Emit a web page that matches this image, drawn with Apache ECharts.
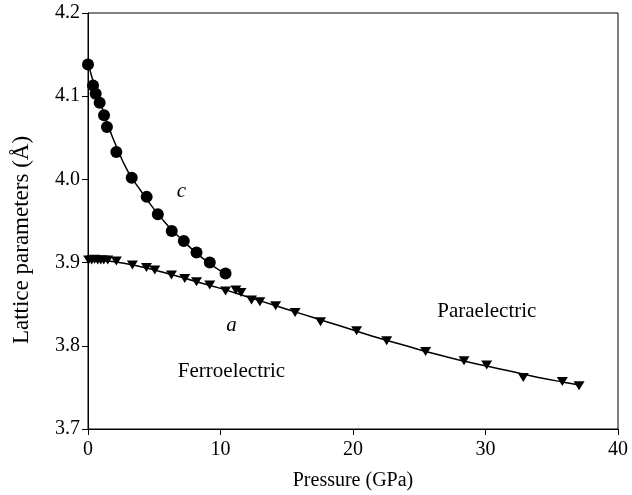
<!DOCTYPE html>
<html>
<head>
<meta charset="utf-8">
<script src="https://cdn.jsdelivr.net/npm/echarts@6/dist/echarts.min.js"></script>
<style>
  html, body { margin: 0; padding: 0; background: #fff; }
  #chart { width: 632px; height: 495px; }
</style>
</head>
<body>
<div id="chart"></div>
<script>
// Lattice parameter c (tetragonal axis), measured points: pressure (GPa) and value (Å)
var cPressure = [0, 0.38, 0.58, 0.88, 1.21, 1.43, 2.14, 3.30, 4.43, 5.27, 6.32, 7.23, 8.19, 9.19, 10.38];
var cValue    = [4.138, 4.113, 4.103, 4.092, 4.077, 4.063, 4.033, 4.002, 3.979, 3.958, 3.938, 3.926, 3.912, 3.900, 3.887];

// Lattice parameter a, measured points
var aPressure = [0.05, 0.28, 0.50, 0.73, 0.96, 1.19, 1.49, 2.14, 3.35, 4.41, 5.04, 6.30, 7.30, 8.19, 9.19, 10.38,
                 11.16, 11.55, 12.34, 12.97, 14.16, 15.63, 17.55, 20.27, 22.54, 25.48, 28.38, 30.09, 32.85, 35.80, 37.06];
var aValue    = [3.903, 3.903, 3.904, 3.903, 3.903, 3.903, 3.903, 3.902, 3.897, 3.894, 3.891, 3.885, 3.881, 3.877, 3.873, 3.866,
                 3.867, 3.864, 3.855, 3.853, 3.848, 3.840, 3.829, 3.818, 3.806, 3.793, 3.782, 3.777, 3.762, 3.757, 3.752];

// Fitted curves through each set
var cFitPressure = [0, 0.5, 1, 1.5, 2, 3, 4, 5, 6, 7, 8, 9, 10, 10.4];
var cFitValue    = [4.140, 4.112, 4.089, 4.066, 4.045, 4.010, 3.986, 3.964, 3.945, 3.929, 3.914, 3.901, 3.890, 3.886];
var aFitPressure = [0, 2, 4, 6, 8, 10, 12, 14, 16, 18, 20, 22, 24, 26, 28, 30, 32, 34, 36, 37.1];
var aFitValue    = [3.904, 3.901, 3.895, 3.887, 3.878, 3.869, 3.859, 3.849, 3.839, 3.829, 3.819, 3.809, 3.800, 3.791, 3.783, 3.776, 3.769, 3.762, 3.756, 3.753];

// Axis ticks
var xTicks = [0, 10, 20, 30, 40];
var yTicks = [3.7, 3.8, 3.9, 4.0, 4.1, 4.2];

function pairs(xs, ys) { return xs.map(function (x, i) { return [x, ys[i]]; }); }

var FONT = '"Liberation Serif", "DejaVu Serif", serif';
var chart = echarts.init(document.getElementById('chart'), null, { renderer: 'canvas' });

chart.setOption({
  animation: false,
  backgroundColor: '#ffffff',
  textStyle: { fontFamily: FONT, color: '#000' },
  grid: {
    left: 88, right: 14, top: 13, bottom: 66,
    containLabel: false, outerBoundsMode: 'none',
    show: true, borderColor: '#000', borderWidth: 1, backgroundColor: 'transparent'
  },
  // vertical axis title
  graphic: [{
    type: 'text',
    x: 22, y: 240, rotation: Math.PI / 2,
    style: {
      text: 'Lattice parameters (Å)', fill: '#000',
      font: '23px ' + FONT, align: 'center', verticalAlign: 'middle'
    }
  }],
  xAxis: {
    type: 'value',
    min: xTicks[0], max: xTicks[xTicks.length - 1], interval: 10,
    name: 'Pressure (GPa)', nameLocation: 'middle', nameGap: 42,
    nameTextStyle: { fontFamily: FONT, fontSize: 20, color: '#000' },
    axisLine: { show: true, onZero: false, lineStyle: { color: '#000', width: 1 } },
    axisTick: { show: true, inside: false, length: 6, lineStyle: { color: '#000' } },
    axisLabel: { fontFamily: FONT, fontSize: 20, color: '#000', margin: 11 },
    splitLine: { show: false }
  },
  yAxis: {
    type: 'value',
    min: yTicks[0], max: yTicks[yTicks.length - 1], interval: 0.1,
    axisLine: { show: true, onZero: false, lineStyle: { color: '#000', width: 1 } },
    axisTick: { show: true, inside: false, length: 6, lineStyle: { color: '#000' } },
    axisLabel: {
      fontFamily: FONT, fontSize: 20, color: '#000', margin: 8,
      formatter: function (v) { return v.toFixed(1); }
    },
    splitLine: { show: false }
  },
  series: [
    {
      name: 'c fit', type: 'line', data: pairs(cFitPressure, cFitValue),
      smooth: true, showSymbol: false, silent: true,
      lineStyle: { color: '#000', width: 1.5 }, z: 2
    },
    {
      name: 'a fit', type: 'line', data: pairs(aFitPressure, aFitValue),
      smooth: true, showSymbol: false, silent: true,
      lineStyle: { color: '#000', width: 1.5 }, z: 2
    },
    {
      name: 'c', type: 'scatter', data: pairs(cPressure, cValue),
      symbol: 'circle', symbolSize: 12,
      itemStyle: { color: '#000', opacity: 1 }, z: 3
    },
    {
      name: 'a', type: 'scatter', data: pairs(aPressure, aValue),
      symbol: 'triangle', symbolSize: [11, 9], symbolRotate: 180,
      itemStyle: { color: '#000', opacity: 1 }, z: 3
    },
    {
      // in-plot annotations placed in data coordinates
      name: 'notes', type: 'scatter', symbolSize: 0, silent: true, z: 4,
      itemStyle: { color: '#000', opacity: 1 },
      label: {
        show: true, position: 'inside', color: '#000', fontFamily: FONT, fontSize: 21,
        formatter: function (p) { return p.data.text; }
      },
      data: [
        { value: [7.05, 3.986], text: 'c', label: { fontStyle: 'italic' } },
        { value: [10.83, 3.825], text: 'a', label: { fontStyle: 'italic' } },
        { value: [10.83, 3.769], text: 'Ferroelectric' },
        { value: [30.1, 3.841], text: 'Paraelectric' }
      ]
    }
  ]
});
</script>
</body>
</html>
